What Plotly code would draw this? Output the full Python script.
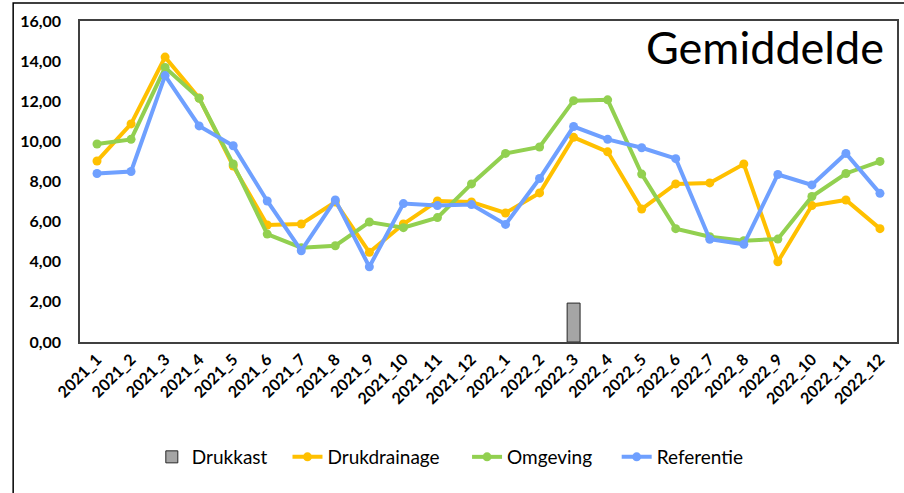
import plotly.graph_objects as go

categories = ["2021_1", "2021_2", "2021_3", "2021_4", "2021_5", "2021_6", "2021_7", "2021_8",
              "2021_9", "2021_10", "2021_11", "2021_12", "2022_1", "2022_2", "2022_3", "2022_4",
              "2022_5", "2022_6", "2022_7", "2022_8", "2022_9", "2022_10", "2022_11", "2022_12"]

drukkast = [None] * 14 + [1.94] + [None] * 9

drukdrainage = [9.02, 10.87, 14.2, 12.16, 8.77, 5.83, 5.88, 6.98, 4.47, 5.88, 7.03, 6.98,
                6.43, 7.43, 10.2, 9.48, 6.63, 7.88, 7.93, 8.87, 4.0, 6.8, 7.08, 5.65]

omgeving = [9.87, 10.1, 13.68, 12.15, 8.87, 5.38, 4.7, 4.8, 5.98, 5.7, 6.2, 7.88,
            9.4, 9.72, 12.03, 12.07, 8.37, 5.65, 5.25, 5.05, 5.13, 7.25, 8.4, 9.0]

referentie = [8.4, 8.5, 13.28, 10.77, 9.78, 7.03, 4.55, 7.08, 3.75, 6.9, 6.8, 6.85,
              5.86, 8.15, 10.74, 10.1, 9.68, 9.14, 5.12, 4.87, 8.35, 7.83, 9.4, 7.41]

FONT = "Lato"
L, T, W, H = 80, 21, 819, 321  # plot area in px


def px_x(p):
    return (p - L) / W


def px_y(p):
    return (T + H - p) / H


fig = go.Figure()
fig.add_trace(go.Bar(x=categories, y=drukkast, name="Drukkast", width=0.38, legend="legend",
                     marker=dict(color="#A5A5A5", line=dict(color="#262626", width=1))))
for name, vals, col, lg in [("Drukdrainage", drukdrainage, "#FFC000", "legend2"),
                            ("Omgeving", omgeving, "#92D050", "legend3"),
                            ("Referentie", referentie, "#6FA0FF", "legend4")]:
    fig.add_trace(go.Scatter(x=categories, y=vals, name=name, mode="lines+markers",
                             legend=lg,
                             line=dict(color=col, width=4),
                             marker=dict(color=col, size=9)))

legend_common = dict(orientation="h", yanchor="middle", y=px_y(457), xanchor="left",
                     font=dict(size=19, family=FONT, color="#000000"), itemwidth=30,
                     bgcolor="rgba(0,0,0,0)")
legend_x = {"legend": 157, "legend2": 293, "legend3": 473, "legend4": 623}

fig.update_layout(
    width=904, height=493,
    margin=dict(l=L, r=904 - L - W, t=T, b=493 - T - H),
    paper_bgcolor="white", plot_bgcolor="white",
    font=dict(family=FONT, color="#000000"),
    separators=",.",
    showlegend=True,
    xaxis=dict(type="category", range=[-0.5, len(categories) - 0.5], autorange=False,
               tickangle=-45, showgrid=False, showline=True, mirror=True,
               linecolor="#404040", linewidth=1.5,
               tickfont=dict(size=16, family=FONT, color="#000000", weight="bold")),
    yaxis=dict(range=[0, 16], dtick=2, tickformat=".2f", showgrid=False, showline=True,
               mirror=True, linecolor="#404040", linewidth=1.5, zeroline=False,
               ticks="outside", ticklen=14, tickcolor="rgba(0,0,0,0)",
               tickfont=dict(size=16, family=FONT, color="#000000", weight="bold")),
    annotations=[dict(text="Gemiddelde", xref="paper", yref="paper", x=px_x(888), y=px_y(47),
                      xanchor="right", yanchor="middle", showarrow=False,
                      font=dict(size=45, family=FONT, color="#000000"))],
    shapes=[dict(type="rect", xref="paper", yref="paper", x0=px_x(13), x1=px_x(910),
                 y0=px_y(500), y1=px_y(3),
                 line=dict(color="#000000", width=1.5), layer="below")],
)
for k, xp in legend_x.items():
    fig.update_layout({k: dict(legend_common, x=px_x(xp - 5))})

fig.write_html("out.html", config={"displayModeBar": False},
               post_script="document.body.style.margin='0';")
